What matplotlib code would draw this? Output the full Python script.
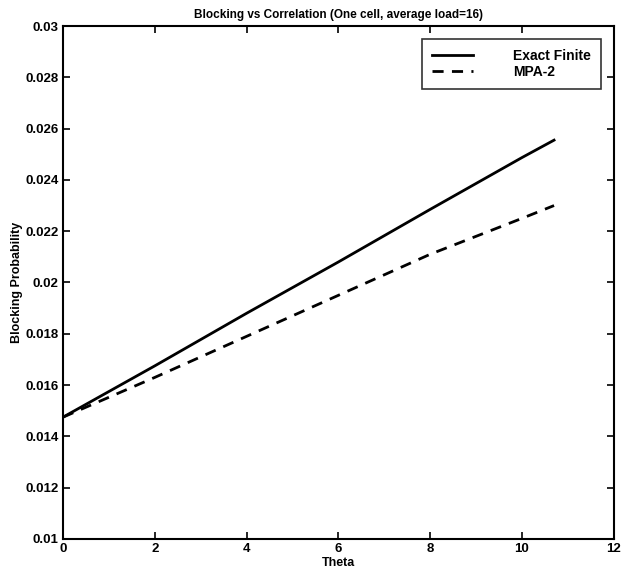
import matplotlib
matplotlib.use("Agg")
import matplotlib.pyplot as plt

theta = [0, 2, 4, 6, 8, 10, 10.7]
exact_finite = [0.01475, 0.01675, 0.0188, 0.0208, 0.02285, 0.02487, 0.02555]
mpa2 = [0.01475, 0.0163, 0.0179, 0.0195, 0.0211, 0.0225, 0.0230]

xticks = [0, 2, 4, 6, 8, 10, 12]
yticks = [0.01, 0.012, 0.014, 0.016, 0.018, 0.02, 0.022, 0.024, 0.026, 0.028, 0.03]
ytick_labels = ["0.01", "0.012", "0.014", "0.016", "0.018", "0.02", "0.022", "0.024", "0.026", "0.028", "0.03"]

plt.rcParams['font.family'] = ['Liberation Sans', 'DejaVu Sans']
plt.rcParams['font.weight'] = 'bold'

fig = plt.figure(figsize=(6.34, 5.78), dpi=100)
ax = fig.add_axes([0.0994, 0.0675, 0.8686, 0.8875])

ax.plot(theta, exact_finite, color='black', lw=2, linestyle='-', label='Exact Finite')
ax.plot(theta, mpa2, color='black', lw=2, linestyle=(0, (4, 3)), label='MPA-2')

ax.set_xlim(0, 12)
ax.set_ylim(0.01, 0.03)
ax.set_xticks(xticks)
ax.set_xticklabels([str(t) for t in xticks])
ax.set_yticks(yticks)
ax.set_yticklabels(ytick_labels)
ax.tick_params(direction='in', top=True, right=True, length=5, width=1.2, labelsize=9.5, pad=3)
for lab in ax.get_xticklabels() + ax.get_yticklabels():
    lab.set_fontweight('bold')
for s in ax.spines.values():
    s.set_linewidth(1.5)

ax.set_title('Blocking vs Correlation (One cell, average load=16)', fontsize=8.5, fontweight='bold', pad=6)
ax.set_xlabel('Theta', fontsize=9, fontweight='bold', labelpad=1)
ax.set_ylabel('Blocking Probability', fontsize=9, fontweight='bold', labelpad=2)

leg = ax.legend(loc='upper right', fontsize=10, frameon=True, fancybox=False,
                edgecolor='black', handlelength=2.9, handletextpad=2.9,
                borderpad=0.75, labelspacing=0.15, borderaxespad=0.9)
leg.get_frame().set_linewidth(1.2)
for t in leg.get_texts():
    t.set_fontweight('bold')

fig.savefig('out.png', dpi=100, facecolor='white')
